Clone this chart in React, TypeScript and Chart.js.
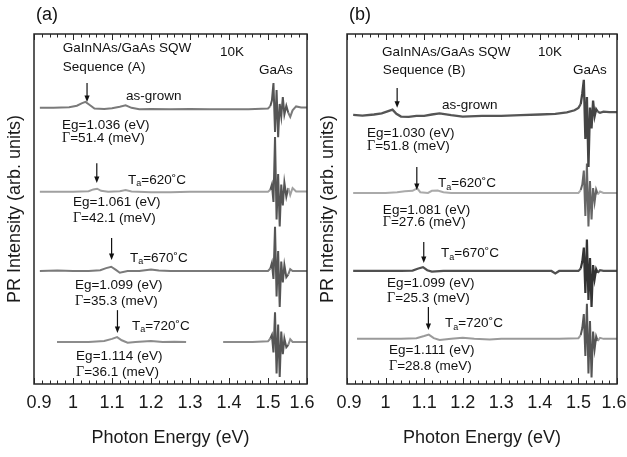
import React, { useEffect, useRef } from "react";
import { Chart, registerables } from "chart.js";

Chart.register(...registerables);

const SANS = '"Liberation Sans", Arial, Helvetica, sans-serif';
const SERIF = '"Liberation Serif", "Times New Roman", serif';

// ---------- axis ----------
const X_MIN = 0.9;
const X_MAX = 1.6;
const X_TICK_VALUES = [0.9, 1.0, 1.1, 1.2, 1.3, 1.4, 1.5, 1.6];
const X_TICK_LABELS = ["0.9", "1", "1.1", "1.2", "1.3", "1.4", "1.5", "1.6"];

// ---------- annotation data ----------
const CONDITIONS = ["as-grown", "620", "670", "720"];
const egA = [1.036, 1.061, 1.099, 1.114];
const gammaA = [51.4, 42.1, 35.3, 36.1];
const egB = [1.03, 1.081, 1.099, 1.111];
const gammaB = [51.8, 27.6, 25.3, 28.8];

// ---------- spectra, panel (a) ----------
const energyA0 = [0.915, 0.95, 0.99, 1.01, 1.022, 1.032, 1.042, 1.055, 1.08, 1.1, 1.12, 1.135, 1.15, 1.17, 1.2, 1.25, 1.3, 1.35, 1.4, 1.45,
  1.5, 1.506, 1.51, 1.514, 1.518, 1.522, 1.526, 1.53, 1.534, 1.538, 1.542, 1.547, 1.552, 1.557, 1.563, 1.572, 1.585, 1.6];
const prA0 = [78.9, 78.9, 79.1, 79.5, 80.2, 80.6, 79.8, 78.7, 78.6, 78.8, 79.2, 79.6, 78.9, 78.5, 78.6, 78.5, 78.6, 78.5, 78.5, 78.5,
  78.7, 79.4, 81, 86, 72, 84, 70.5, 80, 76.5, 82, 77, 79.5, 77.5, 76.3, 78.2, 79.3, 79, 79];

const energyA1 = [0.915, 0.96, 1.0, 1.04, 1.052, 1.062, 1.072, 1.09, 1.12, 1.135, 1.15, 1.2, 1.25, 1.3, 1.4, 1.45,
  1.5, 1.506, 1.51, 1.514, 1.518, 1.522, 1.526, 1.53, 1.534, 1.538, 1.542, 1.547, 1.552, 1.557, 1.563, 1.572, 1.585, 1.6];
const prA1 = [54.9, 54.9, 54.9, 55.1, 55.6, 55.8, 55.2, 54.9, 55.1, 55.4, 55, 54.8, 54.8, 54.9, 54.9, 54.9,
  54.9, 55.5, 57, 52, 70.6, 47, 60, 45, 57, 51, 57.5, 53.5, 56, 54, 56, 55, 55, 55];

const energyA2 = [0.915, 0.96, 1.0, 1.04, 1.07, 1.085, 1.098, 1.11, 1.12, 1.14, 1.17, 1.2, 1.22, 1.25, 1.3, 1.4, 1.45,
  1.5, 1.506, 1.51, 1.514, 1.518, 1.522, 1.526, 1.53, 1.534, 1.538, 1.542, 1.547, 1.552, 1.557, 1.563, 1.572, 1.585, 1.6];
const prA2 = [32.3, 32.4, 32.3, 32.3, 32.5, 33.1, 33.5, 32.6, 31.8, 32.3, 32.3, 32.7, 32.4, 32.3, 32.3, 32.3, 32.3,
  32.3, 33, 34.6, 30, 44.9, 25, 38, 22, 35, 29, 34, 30.5, 31.3, 32.8, 32.3, 32.3, 32.3, 32.3];

const energyA3 = [0.959, 1.0, 1.04, 1.08, 1.1, 1.113, 1.125, 1.14, 1.16, 1.2, 1.23, 1.26, 1.29, 1.34, 1.385, 1.42, 1.46,
  1.5, 1.506, 1.51, 1.514, 1.518, 1.522, 1.526, 1.53, 1.534, 1.538, 1.542, 1.547, 1.552, 1.557, 1.563, 1.572, 1.585, 1.6];
const prA3 = [12, 12, 12, 12.3, 12.9, 13.4, 12.5, 11.8, 12, 12.3, 12, 12.1, 12, null, 12, 12, 12,
  12.2, 13, 14, 9, 20.5, 3, 17, 2, 15, 8.5, 13, 10.5, 11.2, 12.8, 12, 12, 12, 12];

// ---------- spectra, panel (b) ----------
const energyB0 = [0.916, 0.94, 0.97, 0.99, 1.005, 1.018, 1.028, 1.04, 1.06, 1.08, 1.1, 1.12, 1.14, 1.17, 1.2, 1.25, 1.3, 1.35, 1.4, 1.44, 1.47, 1.49,
  1.5, 1.506, 1.51, 1.514, 1.518, 1.522, 1.526, 1.53, 1.534, 1.538, 1.542, 1.546, 1.55, 1.556, 1.565, 1.58, 1.6];
const prB0 = [76.9, 76.7, 77, 77.3, 77.9, 78.4, 77.2, 76.4, 76.3, 76.6, 76.6, 77, 77.3, 76.8, 76.4, 76.6, 76.6, 76.8, 77, 77.2, 77.6, 78.2,
  78.9, 80, 83, 86.9, 70, 82, 62, 79, 73, 81, 76.5, 78.5, 77.8, 77.5, 77.8, 77.7, 77.7];

const energyB1 = [0.916, 0.96, 1.0, 1.03, 1.05, 1.07, 1.082, 1.09, 1.11, 1.12, 1.135, 1.15, 1.17, 1.2, 1.3, 1.4, 1.45,
  1.5, 1.506, 1.51, 1.514, 1.518, 1.522, 1.526, 1.53, 1.534, 1.538, 1.542, 1.546, 1.55, 1.556, 1.565, 1.58, 1.6];
const prB1 = [54.6, 54.6, 54.6, 54.8, 55.1, 55.2, 55.9, 54.8, 54.6, 55.2, 55.3, 54.8, 54.6, 54.6, 54.6, 54.6, 54.6,
  54.6, 55.4, 57, 61, 48, 63, 45, 58, 47, 56, 52, 55.5, 54.2, 55, 54.6, 54.6, 54.6];

const energyB2 = [0.916, 0.96, 1.0, 1.04, 1.07, 1.085, 1.097, 1.108, 1.12, 1.15, 1.2, 1.25, 1.3, 1.35, 1.4, 1.43, 1.44, 1.45, 1.47,
  1.5, 1.506, 1.51, 1.514, 1.518, 1.522, 1.526, 1.53, 1.534, 1.538, 1.542, 1.546, 1.55, 1.556, 1.565, 1.58, 1.6];
const prB2 = [32.3, 32.3, 32.3, 32.3, 32.4, 33, 33.4, 32.5, 32.1, 32.3, 32.3, 32.3, 32.3, 32.3, 32.3, 32.3, 31.6, 32.3, 32.3,
  32.3, 33, 35, 39, 26, 41.3, 24, 36, 22, 34, 30, 32.8, 31.8, 32.5, 32.3, 32.3, 32.3];

const energyB3 = [0.926, 0.96, 1.0, 1.04, 1.08, 1.1, 1.112, 1.125, 1.14, 1.17, 1.2, 1.23, 1.27, 1.3, 1.35, 1.4, 1.45,
  1.5, 1.506, 1.51, 1.514, 1.518, 1.522, 1.526, 1.53, 1.534, 1.538, 1.542, 1.546, 1.55, 1.556, 1.565, 1.58, 1.6];
const prB3 = [12.9, 12.9, 12.9, 12.9, 13.1, 13.7, 14.1, 13.1, 12.6, 12.9, 13.2, 12.9, 12.7, 12.9, 12.9, 12.9, 12.9,
  13.1, 14, 16, 20, 8, 22.9, 3, 18, 1.9, 15, 10, 13.6, 12.3, 13.2, 12.9, 12.9, 12.9];

// ---------- placement of labels (data units: energy, intensity) ----------
const placeA = {
  header: [0.974, 96], tenK: [1.377, 94.9], seq: [0.974, 90.6], gaas: [1.477, 89.7],
  cond: [[1.136, 82.3], [1.141, 58.3], [1.146, 36], [1.151, 16.6]],
  eg: [[0.972, 74], [1.0, 52], [1.005, 28.3], [1.008, 8]],
  gam: [[0.972, 70.3], [1.0, 47.4], [1.005, 23.7], [1.008, 3.4]],
  arrow: [[86, 80.6], [63.1, 57.4], [41.7, 35.4], [21.1, 14.6]],
  edgeShift: [5, -5],
};
const placeB = {
  header: [0.991, 94.9], tenK: [1.395, 94.9], seq: [0.993, 89.7], gaas: [1.486, 89.7],
  cond: [[1.146, 79.7], [1.136, 57.4], [1.144, 37.4], [1.154, 17.4]],
  eg: [[0.952, 71.7], [0.993, 49.7], [1.004, 28.9], [1.009, 9.7]],
  gam: [[0.952, 68], [0.993, 46.3], [1.004, 24.6], [1.009, 5.1]],
  arrow: [[84.6, 78.9], [62, 55.4], [40.6, 34.6], [22, 15.4]],
  edgeShift: [2, -3],
};

type Part = { t: string; font: string; dy?: number };

function drawParts(ctx: CanvasRenderingContext2D, x: number, y: number, parts: Part[]) {
  let cx = x;
  for (const p of parts) {
    ctx.font = p.font;
    ctx.fillText(p.t, cx, y + (p.dy || 0));
    cx += ctx.measureText(p.t).width;
  }
}

function drawArrow(ctx: CanvasRenderingContext2D, x: number, yTop: number, yTip: number) {
  const head = 6.5;
  const half = 2.6;
  ctx.strokeStyle = "#111";
  ctx.fillStyle = "#111";
  ctx.lineWidth = 1.2;
  ctx.beginPath();
  ctx.moveTo(x, yTop);
  ctx.lineTo(x, yTip - head + 1);
  ctx.stroke();
  ctx.beginPath();
  ctx.moveTo(x - half, yTip - head);
  ctx.lineTo(x + half, yTip - head);
  ctx.lineTo(x, yTip);
  ctx.closePath();
  ctx.fill();
}

const overlayPlugin = {
  id: "overlay",
  afterDatasetsDraw(chart: any, _args: any, opts: any) {
    const { ctx, chartArea: ca } = chart;
    const xs = chart.scales.x;
    const ys = chart.scales.y;
    const px = (v: number) => xs.getPixelForValue(v);
    const py = (v: number) => ys.getPixelForValue(v);
    ctx.save();
    // frame
    ctx.strokeStyle = "#262626";
    ctx.lineWidth = 1.5;
    ctx.strokeRect(ca.left, ca.top, ca.right - ca.left, ca.bottom - ca.top);
    // inward minor/major ticks on top and bottom
    ctx.lineWidth = 1;
    const n = Math.round((X_MAX - X_MIN) / 0.02);
    for (let i = 0; i <= n; i++) {
      const v = X_MIN + i * 0.02;
      const xx = Math.round(px(v)) + 0.5;
      const len = i % 5 === 0 ? 6 : 3.5;
      ctx.beginPath();
      ctx.moveTo(xx, ca.bottom);
      ctx.lineTo(xx, ca.bottom - len);
      ctx.moveTo(xx, ca.top);
      ctx.lineTo(xx, ca.top + len);
      ctx.stroke();
    }
    // tick labels
    ctx.fillStyle = "#1a1a1a";
    ctx.font = `18px ${SANS}`;
    ctx.textAlign = "center";
    ctx.textBaseline = "top";
    X_TICK_VALUES.forEach((v, i) => {
      let shift = 0;
      if (i === 0) shift = opts.edgeShift[0];
      if (i === X_TICK_VALUES.length - 1) shift = opts.edgeShift[1];
      ctx.fillText(X_TICK_LABELS[i], px(v) + shift, ca.bottom + 10);
    });
    // panel tag
    ctx.fillStyle = "#111";
    ctx.textBaseline = "middle";
    ctx.textAlign = "left";
    ctx.font = `18px ${SANS}`;
    ctx.fillText(opts.tag, ca.left + 2, 15);
    for (const item of opts.texts) {
      ctx.fillStyle = "#111";
      drawParts(ctx, px(item.x), py(item.y), item.parts);
    }
    for (const a of opts.arrows) drawArrow(ctx, px(a.x), py(a.y1), py(a.y2));
    ctx.restore();
  },
};

function buildOverlay(tag: string, seq: string, eg: number[], gamma: number[], place: any) {
  const f = `13.5px ${SANS}`;
  const fs = `9px ${SANS}`;
  const fg = `14px ${SERIF}`;
  const texts: any[] = [
    { x: place.header[0], y: place.header[1], parts: [{ t: "GaInNAs/GaAs SQW", font: f }] },
    { x: place.tenK[0], y: place.tenK[1], parts: [{ t: "10K", font: f }] },
    { x: place.seq[0], y: place.seq[1], parts: [{ t: seq, font: f }] },
    { x: place.gaas[0], y: place.gaas[1], parts: [{ t: "GaAs", font: f }] },
  ];
  CONDITIONS.forEach((c, i) => {
    const condParts =
      i === 0
        ? [{ t: c, font: f }]
        : [{ t: "T", font: f }, { t: "a", font: fs, dy: 4 }, { t: `=${c}˚C`, font: f }];
    texts.push({ x: place.cond[i][0], y: place.cond[i][1], parts: condParts });
    texts.push({ x: place.eg[i][0], y: place.eg[i][1], parts: [{ t: `Eg=${eg[i].toFixed(3)} (eV)`, font: f }] });
    texts.push({
      x: place.gam[i][0],
      y: place.gam[i][1],
      parts: [{ t: "Γ", font: fg }, { t: `=${gamma[i].toFixed(1)} (meV)`, font: f }],
    });
  });
  const arrows = eg.map((e, i) => ({ x: e, y1: place.arrow[i][0], y2: place.arrow[i][1] }));
  return { tag, texts, arrows, edgeShift: place.edgeShift };
}

type Trace = { e: number[]; v: (number | null)[]; color: string; dark: string; width: number };

function buildDatasets(traces: Trace[]) {
  return traces.map((t) => ({
    data: t.e.map((x, i) => ({ x, y: t.v[i] })),
    borderColor: t.color,
    borderWidth: t.width,
    pointRadius: 0,
    tension: 0,
    fill: false,
    spanGaps: false,
    segment: {
      borderColor: (c: any) => (c.p0.parsed.x >= 1.504 && c.p1.parsed.x <= 1.552 ? t.dark : undefined),
    },
  }));
}

const tracesA: Trace[] = [
  { e: energyA0, v: prA0, color: "#7a7a7a", dark: "#555", width: 2 },
  { e: energyA1, v: prA1, color: "#a0a0a0", dark: "#555", width: 2 },
  { e: energyA2, v: prA2, color: "#7a7a7a", dark: "#555", width: 2 },
  { e: energyA3, v: prA3, color: "#8c8c8c", dark: "#555", width: 2 },
];
const tracesB: Trace[] = [
  { e: energyB0, v: prB0, color: "#555", dark: "#444", width: 2.3 },
  { e: energyB1, v: prB1, color: "#aaa", dark: "#666", width: 2 },
  { e: energyB2, v: prB2, color: "#505050", dark: "#333", width: 2.2 },
  { e: energyB3, v: prB3, color: "#9a9a9a", dark: "#555", width: 2 },
];

function makeConfig(traces: Trace[], overlay: any, padRight: number) {
  return {
    type: "line",
    data: { datasets: buildDatasets(traces) },
    plugins: [overlayPlugin],
    options: {
      animation: false,
      responsive: false,
      maintainAspectRatio: false,
      layout: { padding: { top: 34, right: padRight, left: 0, bottom: 0 } },
      plugins: { legend: { display: false }, tooltip: { enabled: false }, overlay },
      scales: {
        x: {
          type: "linear",
          min: X_MIN,
          max: X_MAX,
          grid: { display: false, drawTicks: false },
          border: { display: false },
          afterBuildTicks: (s: any) => {
            s.ticks = X_TICK_VALUES.map((value) => ({ value }));
          },
          ticks: { display: false },
          title: {
            display: true,
            text: "Photon Energy (eV)",
            color: "#1a1a1a",
            font: { family: SANS, size: 18 },
            padding: { top: 0, bottom: 8 },
          },
          afterFit: (s: any) => {
            s.height = 73;
            s.paddingLeft = 0;
            s.paddingRight = 0;
          },
        },
        y: {
          type: "linear",
          min: 0,
          max: 100,
          grid: { display: false, drawTicks: false },
          border: { display: false },
          ticks: { display: false },
          title: {
            display: true,
            text: "PR Intensity (arb. units)",
            color: "#1a1a1a",
            font: { family: SANS, size: 18 },
            padding: { top: 4, bottom: 0 },
          },
          afterFit: (s: any) => {
            s.width = 34;
          },
        },
      },
    },
  };
}

export default function App() {
  const leftRef = useRef<HTMLCanvasElement>(null);
  const rightRef = useRef<HTMLCanvasElement>(null);

  useEffect(() => {
    const left = new Chart(
      leftRef.current as HTMLCanvasElement,
      makeConfig(tracesA, buildOverlay("(a)", "Sequence (A)", egA, gammaA, placeA), 23) as any
    );
    const right = new Chart(
      rightRef.current as HTMLCanvasElement,
      makeConfig(tracesB, buildOverlay("(b)", "Sequence (B)", egB, gammaB, placeB), 10) as any
    );
    return () => {
      left.destroy();
      right.destroy();
    };
  }, []);

  return (
    <div style={{ position: "fixed", left: 0, top: 0, width: 627, height: 457, background: "#fff", overflow: "hidden" }}>
      <canvas ref={leftRef} width={330} height={457} style={{ position: "absolute", left: 0, top: 0, width: 330, height: 457 }} />
      <canvas ref={rightRef} width={314} height={457} style={{ position: "absolute", left: 313, top: 0, width: 314, height: 457 }} />
    </div>
  );
}
